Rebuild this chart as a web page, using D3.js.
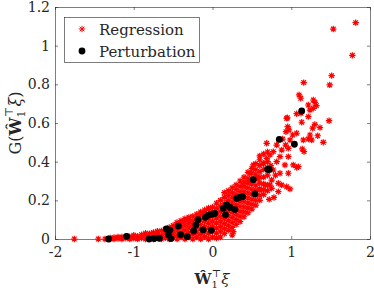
<!DOCTYPE html>
<html>
<head>
<meta charset="utf-8">
<script src="https://cdn.jsdelivr.net/npm/d3@7"></script>
<style>
body { margin: 0; background: #fff; }
svg { display: block; }
text { font-family: "DejaVu Serif", "Liberation Serif", serif; fill: #262626; }
</style>
</head>
<body>
<script>
// tick labels
var xTicks = [-2, -1, 0, 1, 2];
var yTicks = [0, 0.2, 0.4, 0.6, 0.8, 1, 1.2];

// regression samples, dense part, read as columns: [x, [y values]]
var regressionCols = [
  [-1.30, [0, 0.005]], [-1.25, [0, 0.008]], [-1.20, [0.002, 0.01]], [-1.15, [0, 0.01]],
  [-1.10, [0.004, 0.015]], [-1.05, [0, 0.012]], [-1.00, [0.003, 0.02]], [-0.95, [0, 0.015]],
  [-0.90, [0.005, 0.022]], [-0.85, [0, 0.018, 0.03]], [-0.80, [0.004, 0.028]],
  [-0.75, [0, 0.016, 0.034]], [-0.70, [0.006, 0.026, 0.04]], [-0.65, [0, 0.018, 0.042]],
  [-0.60, [0.006, 0.03, 0.05]], [-0.55, [0, 0.02, 0.04, 0.06]], [-0.50, [0.008, 0.03, 0.052, 0.07]],
  [-0.45, [0, 0.02, 0.042, 0.064, 0.085]], [-0.40, [0.01, 0.034, 0.058, 0.08, 0.095]],
  [-0.35, [0, 0.022, 0.046, 0.07, 0.09, 0.105]], [-0.30, [0.01, 0.034, 0.058, 0.08, 0.10, 0.112]],
  [-0.25, [0, 0.024, 0.048, 0.072, 0.094, 0.118]], [-0.20, [0.01, 0.036, 0.06, 0.085, 0.108, 0.128]],
  [-0.15, [0, 0.024, 0.05, 0.075, 0.10, 0.122, 0.14]], [-0.10, [0.012, 0.038, 0.064, 0.09, 0.114, 0.136, 0.15]],
  [-0.05, [0, 0.028, 0.054, 0.08, 0.104, 0.128, 0.152, 0.16]],
  [0.00, [0.01, 0.04, 0.066, 0.092, 0.118, 0.142, 0.165]],
  [0.05, [0.005, 0.03, 0.056, 0.082, 0.108, 0.134, 0.158, 0.185]],
  [0.10, [0.01, 0.04, 0.066, 0.092, 0.118, 0.144, 0.17, 0.2]],
  [0.15, [0.028, 0.054, 0.08, 0.106, 0.132, 0.158, 0.184, 0.215, 0.24]],
  [0.20, [0.045, 0.07, 0.096, 0.122, 0.148, 0.174, 0.2, 0.226, 0.25]],
  [0.25, [0.02, 0.06, 0.086, 0.112, 0.138, 0.164, 0.19, 0.216, 0.24, 0.265]],
  [0.30, [0.075, 0.1, 0.126, 0.152, 0.178, 0.204, 0.23, 0.256, 0.28]],
  [0.35, [0.09, 0.116, 0.142, 0.168, 0.194, 0.22, 0.246, 0.272, 0.30]],
  [0.40, [0.115, 0.14, 0.166, 0.192, 0.218, 0.244, 0.27, 0.296, 0.32]],
  [0.45, [0.135, 0.16, 0.186, 0.212, 0.238, 0.264, 0.29, 0.315, 0.345]],
  [0.50, [0.155, 0.18, 0.206, 0.232, 0.258, 0.284, 0.31, 0.34, 0.365]],
  [0.55, [0.175, 0.2, 0.226, 0.252, 0.278, 0.31, 0.335, 0.36, 0.39]],
  [0.60, [0.2, 0.225, 0.26, 0.29, 0.32, 0.38, 0.41, 0.43]],
  [0.65, [0.23, 0.255, 0.285, 0.32, 0.36, 0.39, 0.44]],
  [0.70, [0.25, 0.28, 0.33, 0.37, 0.40, 0.45]]
];

// regression samples, sparse part and outliers: [x, y]
var regressionSparse = [
  [-1.755, 0], [-1.45, 0], [-1.365, 0], [0.264, 0.038],
  [1.818, 1.119], [1.534, 1.086], [1.776, 0.95], [1.513, 0.845], [1.488, 0.797], [1.158, 0.809],
  [1.10, 0.745], [1.12, 0.728], [1.28, 0.719], [1.30, 0.707], [1.32, 0.69], [1.217, 0.693],
  [1.238, 0.667], [1.28, 0.676], [1.124, 0.65], [1.069, 0.648], [1.217, 0.633], [0.942, 0.624],
  [0.95, 0.627], [1.48, 0.612], [1.133, 0.604], [1.30, 0.593], [1.365, 0.576], [1.272, 0.573],
  [0.955, 0.581], [0.971, 0.564], [0.933, 0.555], [1.069, 0.547], [1.018, 0.538], [1.336, 0.534],
  [1.238, 0.538], [1.217, 0.517], [1.153, 0.512], [1.407, 0.50], [1.26, 0.512], [0.984, 0.512],
  [0.891, 0.517], [0.929, 0.486], [0.963, 0.469], [0.815, 0.486], [0.879, 0.46], [1.14, 0.466],
  [1.162, 0.452], [0.688, 0.495], [0.772, 0.452], [0.73, 0.435], [0.688, 0.417], [0.857, 0.426],
  [0.963, 0.426], [0.645, 0.392], [0.815, 0.40], [0.92, 0.383], [1.026, 0.383], [1.09, 0.374],
  [1.07, 0.37], [0.518, 0.383], [0.603, 0.348], [0.772, 0.357], [0.857, 0.34], [0.963, 0.34],
  [0.476, 0.34], [0.455, 0.296], [0.582, 0.314], [0.751, 0.305], [0.836, 0.288], [0.942, 0.27],
  [0.984, 0.259], [0.667, 0.279], [0.751, 0.262], [0.603, 0.253], [0.39, 0.279], [0.836, 0.245],
  [0.78, 0.215], [0.72, 0.205], [0.879, 0.279], [0.73, 0.279], [0.80, 0.33], [0.74, 0.38]
];

// perturbation samples: [x, y]
var perturbation = [
  [-1.32, 0], [-1.09, 0.014], [-0.805, 0], [-0.74, 0.002], [-0.675, 0.004], [-0.585, 0.052],
  [-0.54, 0.046], [-0.56, 0.022], [-0.527, 0.002], [-0.434, 0.067], [-0.405, 0.022], [-0.32, 0.012],
  [-0.24, 0.042], [-0.21, 0.072], [-0.185, 0.10], [-0.12, 0.047], [-0.09, 0.112], [-0.05, 0.124],
  [-0.01, 0.128], [0.03, 0.132], [-0.015, 0.045], [0.137, 0.158], [0.18, 0.176], [0.225, 0.163],
  [0.286, 0.152], [0.165, 0.125], [0.307, 0.21], [0.35, 0.216], [0.383, 0.219], [0.54, 0.233],
  [0.518, 0.307], [0.70, 0.36], [0.72, 0.36], [0.848, 0.515], [1.04, 0.49], [1.133, 0.662]
];

var regression = [];
regressionCols.forEach(function (c) {
  c[1].forEach(function (v) { regression.push([c[0], v]); });
});
regression = regression.concat(regressionSparse);

var W = 374, H = 290;
var plotL = 55, plotR = 370, plotT = 7, plotB = 239;

var svg = d3.select("body").append("svg").attr("width", W).attr("height", H);

var x = d3.scaleLinear().domain([-2, 2]).range([plotL, plotR]);
var y = d3.scaleLinear().domain([0, 1.2]).range([plotB, plotT]);

var star = "M-3.2,0H3.2M0,-3.2V3.2M-2.3,-2.3L2.3,2.3M-2.3,2.3L2.3,-2.3";

// axes box, ticks inward
function styleAxis(g) {
  g.selectAll("path").attr("stroke", "#262626").attr("stroke-width", 0.6);
  g.selectAll("line").attr("stroke", "#262626").attr("stroke-width", 0.6);
  g.selectAll("text").attr("font-family", null).attr("font-size", 14).attr("fill", "#262626");
}

svg.append("g").attr("transform", "translate(0," + plotB + ")")
  .call(d3.axisBottom(x).tickValues(xTicks).tickSizeInner(-3).tickSizeOuter(0).tickPadding(8)
    .tickFormat(function (d) { return d < 0 ? "-" + Math.abs(d) : d; }))
  .call(styleAxis);
svg.append("g").attr("transform", "translate(0," + plotT + ")")
  .call(d3.axisTop(x).tickValues(xTicks).tickSizeInner(-3).tickSizeOuter(0).tickFormat(""))
  .call(styleAxis);
svg.append("g").attr("transform", "translate(" + plotL + ",0)")
  .call(d3.axisLeft(y).tickValues(yTicks).tickSizeInner(-3).tickSizeOuter(0).tickPadding(5)
    .tickFormat(function (d) { return String(d); }))
  .call(styleAxis);
svg.append("g").attr("transform", "translate(" + plotR + ",0)")
  .call(d3.axisRight(y).tickValues(yTicks).tickSizeInner(-3).tickSizeOuter(0).tickFormat(""))
  .call(styleAxis);

// regression stars
svg.append("g").selectAll("path")
  .data(regression)
  .enter()
  .append("path")
  .attr("d", star)
  .attr("transform", function (d) { return "translate(" + x(d[0]) + "," + y(d[1]) + ")"; })
  .attr("stroke", "#ff0000")
  .attr("stroke-width", 1.2)
  .attr("fill", "none");

// perturbation dots
svg.append("g").selectAll("circle")
  .data(perturbation)
  .enter()
  .append("circle")
  .attr("cx", function (d) { return x(d[0]); })
  .attr("cy", function (d) { return y(d[1]); })
  .attr("r", 3.4)
  .attr("fill", "#000");

// legend
var lg = svg.append("g");
lg.append("rect").attr("x", 64.5).attr("y", 17.5).attr("width", 135).attr("height", 45)
  .attr("fill", "#fff").attr("stroke", "#262626").attr("stroke-width", 0.6);
lg.append("path").attr("d", star).attr("transform", "translate(82,29)")
  .attr("stroke", "#ff0000").attr("stroke-width", 1).attr("fill", "none");
lg.append("circle").attr("cx", 82).attr("cy", 51).attr("r", 3.4).attr("fill", "#000");
lg.append("text").attr("x", 99).attr("y", 34.5).attr("font-size", 15).text("Regression");
lg.append("text").attr("x", 99).attr("y", 56.5).attr("font-size", 15).text("Perturbation");

// axis labels
var xl = svg.append("text").attr("x", 212).attr("y", 284).attr("text-anchor", "middle").attr("font-size", 15);
xl.append("tspan").attr("font-weight", "bold").text("\u0174");
xl.append("tspan").attr("font-size", 10).attr("dy", 4).text("1");
xl.append("tspan").attr("font-size", 10).attr("dx", -6).attr("dy", -11).text("\u22A4");
xl.append("tspan").attr("font-style", "italic").attr("dy", 7).text("\u03BE");

var yl = svg.append("text").attr("transform", "translate(21,123) rotate(-90)")
  .attr("text-anchor", "middle").attr("font-size", 16);
yl.append("tspan").text("G(");
yl.append("tspan").attr("font-weight", "bold").text("\u0174");
yl.append("tspan").attr("font-size", 11).attr("dy", 4).text("1");
yl.append("tspan").attr("font-size", 11).attr("dx", -6.5).attr("dy", -12).text("\u22A4");
yl.append("tspan").attr("font-style", "italic").attr("dy", 8).text("\u03BE");
yl.append("tspan").text(")");
</script>
</body>
</html>
